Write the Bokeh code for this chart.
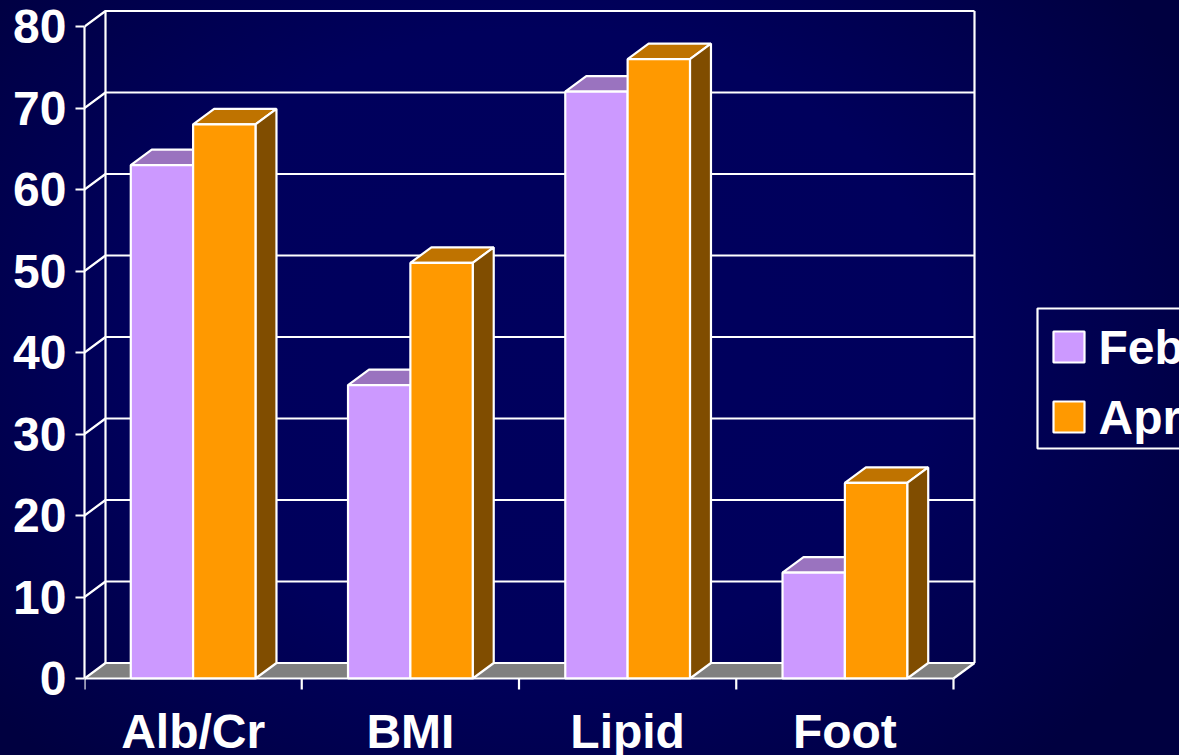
from bokeh.plotting import figure
from bokeh.models import FixedTicker, Range1d
from bokeh.core.properties import value
from bokeh.embed import file_html
from bokeh.resources import INLINE

categories = ["Alb/Cr", "BMI", "Lipid", "Foot"]
series_names = ["Feb", "Apr"]
feb = [63, 36, 72, 13]
apr = [68, 51, 76, 24]
y_ticks = [0, 10, 20, 30, 40, 50, 60, 70, 80]

FEB_FRONT, FEB_TOP = "#CC99FF", "#9A73BF"
APR_FRONT, APR_TOP, APR_SIDE = "#FF9900", "#BF7300", "#804D00"
FLOOR, WHITE = "#808080", "#FFFFFF"

# geometry (CSS px of the page)
W, H = 1179, 755
ORIGIN_X, ORIGIN_Y = 84, 678
GROUP_PX = 217.25
UNIT_PX = 8.15
DX = 21 / GROUP_PX          # depth of the 3D box, in category units
DY = 15.5 / UNIT_PX         # depth of the 3D box, in value units
BAR = 0.287
LW = 2.2
FONT = "Liberation Sans"
SIZE = "48px"


def px_x(px):
    return (px - ORIGIN_X) / GROUP_PX


def px_y(py):
    return (ORIGIN_Y - py) / UNIT_PX


n = len(categories)
centers = [i + 0.5 for i in range(n)]

p = figure(
    width=W, height=H, output_backend="svg", toolbar_location=None,
    x_range=Range1d(px_x(ORIGIN_X), px_x(W)),
    y_range=Range1d(px_y(H), px_y(0)),
    x_axis_location=None,
    min_border_left=ORIGIN_X, min_border_right=0,
    min_border_top=0, min_border_bottom=0,
    border_fill_color=None, background_fill_color=None, outline_line_color=None,
)
p.styles = {
    "background": "radial-gradient(ellipse 62% 75% at 46% 45%, #00005E 0%, #00005C 55%, #00004A 85%, #000040 100%)",
}
p.grid.visible = False

# floor
p.patch([0, DX, n + DX, n], [0, DY, DY, 0], fill_color=FLOOR, line_color=None)

# walls and gridlines
top = y_ticks[-1]
p.multi_line(
    [[0, DX, n + DX] for _ in y_ticks],
    [[v, v + DY, v + DY] for v in y_ticks],
    line_color=WHITE, line_width=LW,
)
p.multi_line(
    [[DX, DX], [n + DX, n + DX], [n + DX, n]],
    [[DY, top + DY], [DY, top + DY], [DY, 0]],
    line_color=WHITE, line_width=LW,
)

# bars: tops and sides first, then fronts
feb_l = [c - BAR for c in centers]
apr_r = [c + BAR for c in centers]

for i in range(n):
    for l, r, v, top_col, side_col in (
        (feb_l[i], centers[i], feb[i], FEB_TOP, FEB_TOP),
        (centers[i], apr_r[i], apr[i], APR_TOP, APR_SIDE),
    ):
        p.patch([l, l + DX, r + DX, r], [v, v + DY, v + DY, v],
                fill_color=top_col, line_color=WHITE, line_width=LW)
        p.patch([r, r + DX, r + DX, r], [0, DY, v + DY, v],
                fill_color=side_col, line_color=WHITE, line_width=LW)

p.vbar(x=[c - BAR / 2 for c in centers], top=feb, bottom=0, width=BAR,
       fill_color=FEB_FRONT, line_color=WHITE, line_width=LW)
p.vbar(x=[c + BAR / 2 for c in centers], top=apr, bottom=0, width=BAR,
       fill_color=APR_FRONT, line_color=WHITE, line_width=LW)

# value axis
ya = p.yaxis[0]
ya.ticker = FixedTicker(ticks=y_ticks)
ya.bounds = (0, top)
ya.axis_line_color = WHITE
ya.axis_line_width = LW
ya.major_tick_line_color = WHITE
ya.major_tick_line_width = LW
ya.major_tick_out = 9
ya.major_tick_in = 0
ya.minor_tick_line_color = None
ya.major_label_standoff = 9
ya.major_label_text_color = WHITE
ya.major_label_text_font = FONT
ya.major_label_text_font_size = SIZE
ya.major_label_text_font_style = "bold"

# category axis: line, ticks between groups, names on the group centres
tick_len = 11 / UNIT_PX
p.multi_line(
    [[0, n]] + [[i, i] for i in range(n + 1)],
    [[0, 0]] + [[0, -tick_len] for _ in range(n + 1)],
    line_color=WHITE, line_width=LW,
)
p.text(x=centers, y=[px_y(731)] * n, text=categories,
       text_align="center", text_baseline="middle", text_color=WHITE,
       text_font=value(FONT), text_font_size=value(SIZE), text_font_style="bold")

# legend, running off the right edge of the page as in the reference
p.quad(left=[px_x(1037)], right=[px_x(W + 20)], top=[px_y(308)], bottom=[px_y(448)],
       fill_color=None, line_color=WHITE, line_width=LW)
swatch_tops = [331, 401]
swatch_fills = [FEB_FRONT, APR_FRONT]
p.quad(left=[px_x(1053)] * 2, right=[px_x(1084)] * 2,
       top=[px_y(t) for t in swatch_tops], bottom=[px_y(t + 31) for t in swatch_tops],
       fill_color=swatch_fills, line_color=WHITE, line_width=LW)
p.text(x=[px_x(1098)] * 2, y=[px_y(t + 16) for t in swatch_tops], text=series_names,
       text_align="left", text_baseline="middle", text_color=WHITE,
       text_font=value(FONT), text_font_size=value(SIZE), text_font_style="bold")

open("out.html", "w").write(file_html(p, INLINE))
